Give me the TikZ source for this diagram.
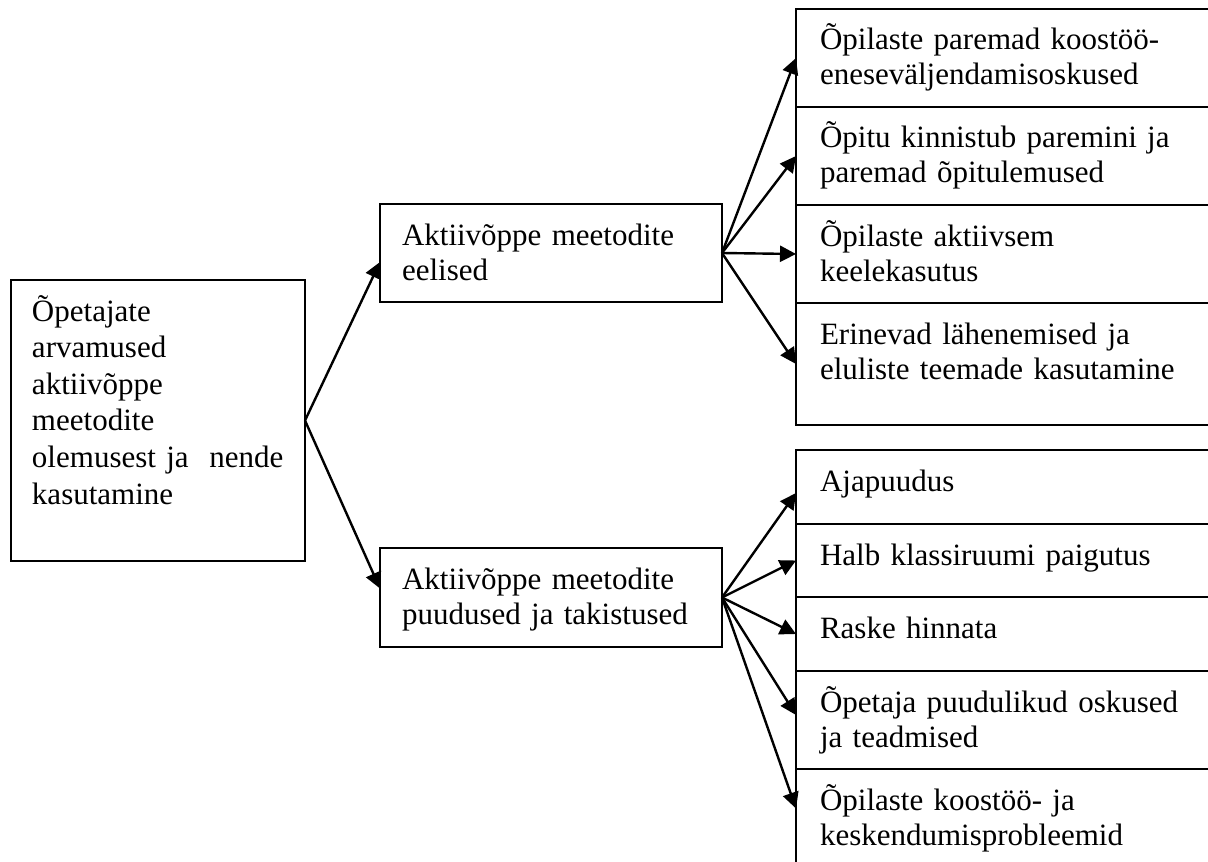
\documentclass[tikz,border=0pt]{standalone}
\usepackage{fontspec}
\setmainfont{Liberation Serif}
\usetikzlibrary{arrows.meta}

\begin{document}
\begin{tikzpicture}[
  x=0.5pt, y=-0.5pt,
  cell/.style={draw, line width=1pt, anchor=north west, outer sep=0pt,
    inner xsep=12pt, inner ysep=0pt, align=left, text width=185pt,
    text height=20.5pt, text depth=28.5pt,
    font=\fontsize{15.5pt}{17.5pt}\selectfont},
  midbox/.style={cell, inner xsep=11pt, text width=149pt},
  rootbox/.style={cell, inner xsep=10.5pt, text width=126pt,
    text depth=120pt, font=\fontsize{15.5pt}{18.3pt}\selectfont},
  arr/.style={-{Triangle[length=8pt,width=8pt]}, line width=1.2pt},
]
\clip (0,0) rectangle (1208,861);

% left and middle column
\node[rootbox] (root) at (11,280) {Õpetajate\\arvamused\\aktiivõppe\\meetodite\\olemusest ja\ \ nende\\kasutamine};
\node[midbox] (plus) at (380,204) {Aktiivõppe meetodite\\eelised};
\node[midbox, text depth=29pt] (minus) at (380,548) {Aktiivõppe meetodite\\puudused ja takistused};

% advantages
\node[cell] (p1) at (796,9) {Õpilaste paremad koostöö-\\eneseväljendamisoskused};
\node[cell] (p2) at (p1.south west) {Õpitu kinnistub paremini ja\\paremad õpitulemused};
\node[cell] (p3) at (p2.south west) {Õpilaste aktiivsem\\keelekasutus};
\node[cell, text depth=40.5pt] (p4) at (p3.south west) {Erinevad lähenemised ja\\eluliste teemade kasutamine};

% drawbacks
\node[cell, text depth=16.5pt] (m1) at (796,450) {Ajapuudus};
\node[cell, text depth=16pt] (m2) at (m1.south west) {Halb klassiruumi paigutus};
\node[cell, text depth=16.5pt] (m3) at (m2.south west) {Raske hinnata};
\node[cell] (m4) at (m3.south west) {Õpetaja puudulikud oskused\\ja teadmised};
\node[cell, text depth=30pt] (m5) at (m4.south west) {Õpilaste koostöö- ja\\keskendumisprobleemid};

% connectors
\draw[arr] (root.east) -- ([yshift=-4.5pt]plus.west);
\draw[arr] (root.east) -- ([yshift=4.5pt]minus.west);
\foreach \n in {p1,p2,p3,p4}
  \draw[arr] (plus.east) -- (\n.west);
\draw[arr] (minus.east) -- ([yshift=-3pt]m1.west);
\draw[arr] (minus.east) -- (m2.west);
\draw[arr] (minus.east) -- (m3.west);
\draw[arr] (minus.east) -- ([yshift=2.5pt]m4.west);
\draw[arr] (minus.east) -- ([yshift=5.5pt]m5.west);
\end{tikzpicture}
\end{document}
